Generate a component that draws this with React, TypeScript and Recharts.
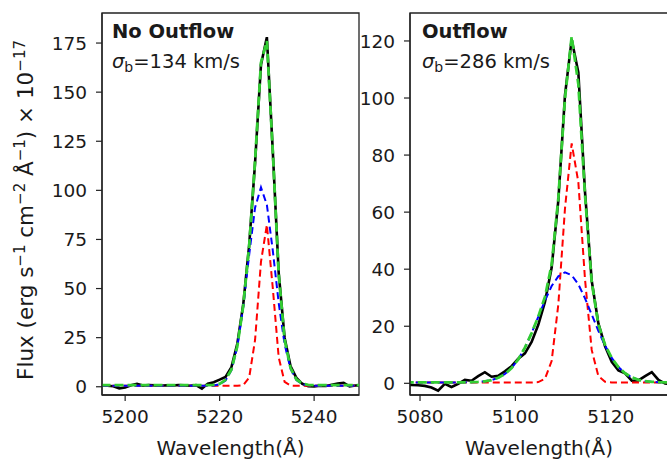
import React from 'react';
import { LineChart, Line, XAxis, YAxis, ReferenceArea } from 'recharts';

// ---- Left panel: No Outflow ----
const leftWave = [
  5195.0, 5196.25, 5197.5, 5198.75, 5200.0, 5201.25, 5202.5, 5203.75, 5205.0, 5206.25,
  5207.5, 5208.75, 5210.0, 5211.25, 5212.5, 5213.75, 5215.0, 5216.25, 5217.5, 5218.75,
  5220.0, 5221.25, 5222.5, 5223.75, 5225.0, 5226.25, 5227.5, 5228.75, 5230.0, 5231.25,
  5232.5, 5233.75, 5235.0, 5236.25, 5237.5, 5238.75, 5240.0, 5241.25, 5242.5, 5243.75,
  5245.0, 5246.25, 5247.5, 5248.75, 5250.0,
];
const leftFlux = [
  0.8, 0.5, 0.3, -0.8, -0.4, 0.8, 1.5, 0.6, 0.9, 0.7,
  0.5, 0.8, 0.6, 0.9, 0.7, 0.5, 0.8, -1.0, 1.6, 2.3,
  3.6, 5.0, 10, 22, 42, 72, 114, 164, 178, 120,
  58, 25, 10.5, 4.5, 1.5, 0.3, 0.2, 0.5, 0.4, 1.0,
  1.6, 2.0, 0.2, 0.6, 0.8,
];
const leftTotal = [
  0.8, 0.8, 0.8, 0.8, 0.8, 0.8, 0.8, 0.8, 0.8, 0.8,
  0.8, 0.8, 0.8, 0.8, 0.8, 0.8, 0.8, 0.8, 0.8, 1.0,
  1.5, 3.5, 8.8, 20.7, 41.3, 71.6, 115, 165, 176, 120,
  57.5, 24, 9.6, 3.7, 1.6, 1.0, 0.8, 0.8, 0.8, 0.8,
  0.8, 0.8, 0.8, 0.8, 0.8,
];
const leftNarrow = [
  0.5, 0.5, 0.5, 0.5, 0.5, 0.5, 0.5, 0.5, 0.5, 0.5,
  0.5, 0.5, 0.5, 0.5, 0.5, 0.5, 0.5, 0.5, 0.5, 0.5,
  0.5, 0.5, 0.5, 0.5, 0.8, 4.6, 23.8, 63.6, 82.5, 50.3,
  15.0, 2.5, 0.6, 0.5, 0.5, 0.5, 0.5, 0.5, 0.5, 0.5,
  0.5, 0.5, 0.5, 0.5, 0.5,
];
const leftBroad = [
  0.5, 0.5, 0.5, 0.5, 0.5, 0.5, 0.5, 0.5, 0.5, 0.5,
  0.5, 0.5, 0.5, 0.5, 0.5, 0.5, 0.5, 0.5, 0.5, 0.66,
  1.2, 3.2, 8.5, 20.4, 40.7, 67.2, 91.2, 101.5, 92.6, 69.4,
  42.7, 21.7, 9.2, 3.4, 1.3, 0.7, 0.5, 0.5, 0.5, 0.5,
  0.5, 0.5, 0.5, 0.5, 0.5,
];
const leftXTicks = [5200, 5220, 5240];
const leftYTicks = [0, 25, 50, 75, 100, 125, 150, 175];

// ---- Right panel: Outflow ----
const rightWave = [
  5076.8, 5078.2, 5079.6, 5081.0, 5082.4, 5083.8, 5085.2, 5086.6, 5088.0, 5089.4,
  5090.8, 5092.2, 5093.6, 5095.0, 5096.4, 5097.8, 5099.2, 5100.6, 5102.0, 5103.4,
  5104.8, 5106.2, 5107.6, 5109.0, 5110.4, 5111.8, 5113.2, 5114.6, 5116.0, 5117.4,
  5118.8, 5120.2, 5121.6, 5123.0, 5124.4, 5125.8, 5127.2, 5128.6, 5130.0, 5131.4,
  5132.8,
];
const rightFlux = [
  -0.5, -0.6, -0.7, -0.9, -1.5, -2.6, -0.2, -1.3, -0.2, 1.2,
  0.9, 2.5, 3.9, 2.3, 2.6, 4.2, 6.0, 8.6, 10.5, 14.5,
  20.5, 28.5, 40.5, 64, 101, 120.5, 109, 67, 36, 21,
  13, 7.5, 4.5, 3.5, 0.9, 1.0, 2.5, 3.9, 1.2, -0.1,
  -0.3,
];
const rightTotal = [
  0.3, 0.3, 0.3, 0.3, 0.3, 0.3, 0.3, 0.3, 0.31, 0.33,
  0.38, 0.48, 0.71, 1.14, 1.92, 3.25, 5.33, 8.39, 12.5, 17.6,
  23.4, 30.3, 41.6, 64.8, 99.9, 121.5, 104.9, 65.9, 35.5, 20.6,
  13.5, 8.9, 5.7, 3.5, 2.07, 1.23, 0.75, 0.51, 0.39, 0.34,
  0.31,
];
const rightNarrow = [
  0.3, 0.3, 0.3, 0.3, 0.3, 0.3, 0.3, 0.3, 0.3, 0.3,
  0.3, 0.3, 0.3, 0.3, 0.3, 0.3, 0.3, 0.3, 0.3, 0.3,
  0.43, 1.55, 7.8, 27.6, 61.3, 84.1, 70.5, 36.4, 11.7, 2.5,
  0.56, 0.3, 0.3, 0.3, 0.3, 0.3, 0.3, 0.3, 0.3, 0.3,
  0.3,
];
const rightBroad = [
  0.3, 0.3, 0.3, 0.3, 0.3, 0.3, 0.3, 0.3, 0.31, 0.33,
  0.38, 0.48, 0.71, 1.14, 1.92, 3.25, 5.33, 8.39, 12.5, 17.6,
  23.3, 29.0, 34.1, 37.5, 38.9, 37.9, 34.7, 29.8, 24.1, 18.4,
  13.2, 8.9, 5.7, 3.5, 2.07, 1.23, 0.75, 0.51, 0.39, 0.34,
  0.31,
];
const rightXTicks = [5080, 5100, 5120];
const rightYTicks = [0, 20, 40, 60, 80, 100, 120];

const leftRows = leftWave.map((w, i) => ({
  w, flux: leftFlux[i], total: leftTotal[i], narrow: leftNarrow[i], broad: leftBroad[i],
}));
const rightRows = rightWave.map((w, i) => ({
  w, flux: rightFlux[i], total: rightTotal[i], narrow: rightNarrow[i], broad: rightBroad[i],
}));

const FONT = 'DejaVu Sans, Verdana, sans-serif';
const TXT = '#1a1a1a';
const FRAME = '#222';
const tickStyle = { fontSize: 18.5, fill: TXT, fontFamily: FONT };

function Panel(props: {
  rows: any[];
  xDomain: [number, number];
  yDomain: [number, number];
  xTicks: number[];
  yTicks: number[];
  width: number;
  yAxisWidth: number;
  marginLeft: number;
  marginRight: number;
}) {
  const { rows, xDomain, yDomain, xTicks, yTicks, width, yAxisWidth, marginLeft, marginRight } = props;
  return (
    <LineChart
      width={width}
      height={461}
      data={rows}
      margin={{ top: 13, right: marginRight, bottom: 36, left: marginLeft }}
    >
      <XAxis
        dataKey="w"
        type="number"
        domain={xDomain}
        allowDataOverflow
        ticks={xTicks}
        height={30}
        tickSize={6}
        tickMargin={9}
        tick={tickStyle}
        axisLine={{ stroke: FRAME, strokeWidth: 1.3 }}
        tickLine={{ stroke: FRAME, strokeWidth: 1.2 }}
      />
      <YAxis
        type="number"
        domain={yDomain}
        allowDataOverflow
        ticks={yTicks}
        width={yAxisWidth}
        tickSize={6}
        tickMargin={9}
        tick={tickStyle}
        axisLine={{ stroke: FRAME, strokeWidth: 1.3 }}
        tickLine={{ stroke: FRAME, strokeWidth: 1.2 }}
      />
      <ReferenceArea
        x1={xDomain[0]}
        x2={xDomain[1]}
        y1={yDomain[0]}
        y2={yDomain[1]}
        fill="none"
        fillOpacity={0}
        stroke={FRAME}
        strokeWidth={1.3}
        ifOverflow="visible"
      />
      <Line type="linear" dataKey="flux" stroke="#000" strokeWidth={2.6} dot={false} isAnimationActive={false} />
      <Line type="linear" dataKey="narrow" stroke="#ff0000" strokeWidth={2} strokeDasharray="7 4" dot={false} isAnimationActive={false} />
      <Line type="linear" dataKey="broad" stroke="#0000ff" strokeWidth={2} strokeDasharray="7 4" dot={false} isAnimationActive={false} />
      <Line type="linear" dataKey="total" stroke="#32cd32" strokeWidth={2.8} strokeDasharray="9 4" dot={false} isAnimationActive={false} />
    </LineChart>
  );
}

function Labels() {
  return (
    <svg width={667} height={461} style={{ position: 'absolute', left: 0, top: 0, pointerEvents: 'none' }}>
      <g fontFamily={FONT} fill={TXT}>
        <text transform="rotate(-90)" x={-210} y={33} textAnchor="middle" fontSize={21.5}>
          Flux (erg s<tspan dy={-8} fontSize={15}>−1</tspan>
          <tspan dy={8}> cm</tspan>
          <tspan dy={-8} fontSize={15}>−2</tspan>
          <tspan dy={8}> Å</tspan>
          <tspan dy={-8} fontSize={15}>−1</tspan>
          <tspan dy={8}>) × 10</tspan>
          <tspan dy={-8} fontSize={15}>−17</tspan>
        </text>
        <text x={230.5} y={455} textAnchor="middle" fontSize={20}>Wavelength(Å)</text>
        <text x={539} y={455} textAnchor="middle" fontSize={20}>Wavelength(Å)</text>

        <text x={112} y={38} fontSize={19.5} fontWeight="bold">No Outflow</text>
        <text x={112} y={68} fontSize={19.5}>
          <tspan fontStyle="italic">σ</tspan>
          <tspan dy={4} fontSize={14}>b</tspan>
          <tspan dy={-4}>=134 km/s</tspan>
        </text>

        <text x={422} y={38} fontSize={19.5} fontWeight="bold">Outflow</text>
        <text x={422} y={68} fontSize={19.5}>
          <tspan fontStyle="italic">σ</tspan>
          <tspan dy={4} fontSize={14}>b</tspan>
          <tspan dy={-4}>=286 km/s</tspan>
        </text>
      </g>
    </svg>
  );
}

export default function App() {
  return (
    <div style={{ position: 'absolute', left: 0, top: 0, width: 667, height: 461, overflow: 'hidden', background: '#fff' }}>
      <div style={{ position: 'absolute', left: 0, top: 0 }}>
        <Panel
          rows={leftRows}
          xDomain={[5195.1, 5249.5]}
          yDomain={[-4.2, 190.3]}
          xTicks={leftXTicks}
          yTicks={leftYTicks}
          width={370}
          yAxisWidth={60}
          marginLeft={42}
          marginRight={11}
        />
      </div>
      <div style={{ position: 'absolute', left: 360, top: 0 }}>
        <Panel
          rows={rightRows}
          xDomain={[5077.9, 5132.0]}
          yDomain={[-4.1, 129.8]}
          xTicks={rightXTicks}
          yTicks={rightYTicks}
          width={320}
          yAxisWidth={45}
          marginLeft={5}
          marginRight={12}
        />
      </div>
      <Labels />
    </div>
  );
}
